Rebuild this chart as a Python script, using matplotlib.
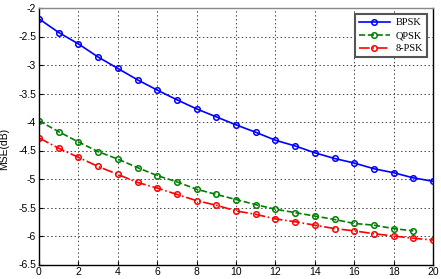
import matplotlib
matplotlib.use("Agg")
import matplotlib.pyplot as plt
import numpy as np

snr = list(range(0, 21))
bpsk = [-2.19, -2.43, -2.63, -2.86, -3.06, -3.26, -3.44, -3.61, -3.77, -3.91, -4.05,
        -4.18, -4.32, -4.42, -4.54, -4.64, -4.72, -4.82, -4.89, -4.98, -5.04]
qpsk_x = list(range(0, 20))
qpsk = [-3.98, -4.17, -4.35, -4.52, -4.65, -4.80, -4.94, -5.05, -5.18, -5.27, -5.36,
        -5.45, -5.53, -5.59, -5.65, -5.71, -5.78, -5.81, -5.87, -5.91]
psk8 = [-4.28, -4.46, -4.62, -4.78, -4.92, -5.06, -5.16, -5.27, -5.38, -5.46, -5.56,
        -5.62, -5.70, -5.75, -5.81, -5.87, -5.91, -5.96, -6.00, -6.04, -6.07]
labels = ["BPSK", "QPSK", "8-PSK"]
xticks = list(range(0, 21, 2))
yticks = [-6.5, -6, -5.5, -5, -4.5, -4, -3.5, -3, -2.5, -2]

plt.rcParams['font.family'] = ['Liberation Sans', 'DejaVu Sans']
fig = plt.figure(figsize=(4.41, 2.79), dpi=100)
ax = fig.add_axes([39/441, 1 - 264.5/279, (433 - 39)/441, (264.5 - 8)/279])

ax.plot(snr, bpsk, '-', color='#0000ff', lw=1.2, marker='o', ms=4,
        mfc='none', mec='#0000ff', mew=1.1, label=labels[0])
ax.plot(qpsk_x, qpsk, '--', color='#008000', lw=1.2, marker='o', ms=4,
        mfc='none', mec='#008000', mew=1.1, label=labels[1])
ax.plot(snr, psk8, '-.', color='#ff0000', lw=1.2, marker='o', ms=4,
        mfc='none', mec='#ff0000', mew=1.1, label=labels[2])

ax.set_xlim(0, 20)
ax.set_ylim(-6.5, -2)
ax.set_xticks(xticks)
ax.set_yticks(yticks)
ax.set_yticklabels([f"{v:g}" for v in yticks])
ax.tick_params(direction='in', labelsize=7.5, length=3, pad=2, color='black')
ax.grid(True, linestyle=(0, (1.5, 2.5)), color='#444444', lw=0.7)
for s in ax.spines.values():
    s.set_linewidth(1.0)
    s.set_color('black')
ax.spines['top'].set_color('#888888')
ax.set_ylabel("MSE(dB)", fontsize=7.5, labelpad=2)
ax.yaxis.set_label_coords(-0.075, 0.45)

leg = ax.legend(loc='upper right', bbox_to_anchor=(0.99, 0.985),
                prop={'family': 'Liberation Serif', 'size': 7.5},
                frameon=True, fancybox=False, handlelength=3.0,
                borderpad=0.4, labelspacing=0.35, handletextpad=0.5,
                borderaxespad=0.2)
leg.get_frame().set_edgecolor('#555555')
leg.get_frame().set_linewidth(1.5)
leg.get_frame().set_alpha(1)

fig.savefig("out.png", dpi=100)
